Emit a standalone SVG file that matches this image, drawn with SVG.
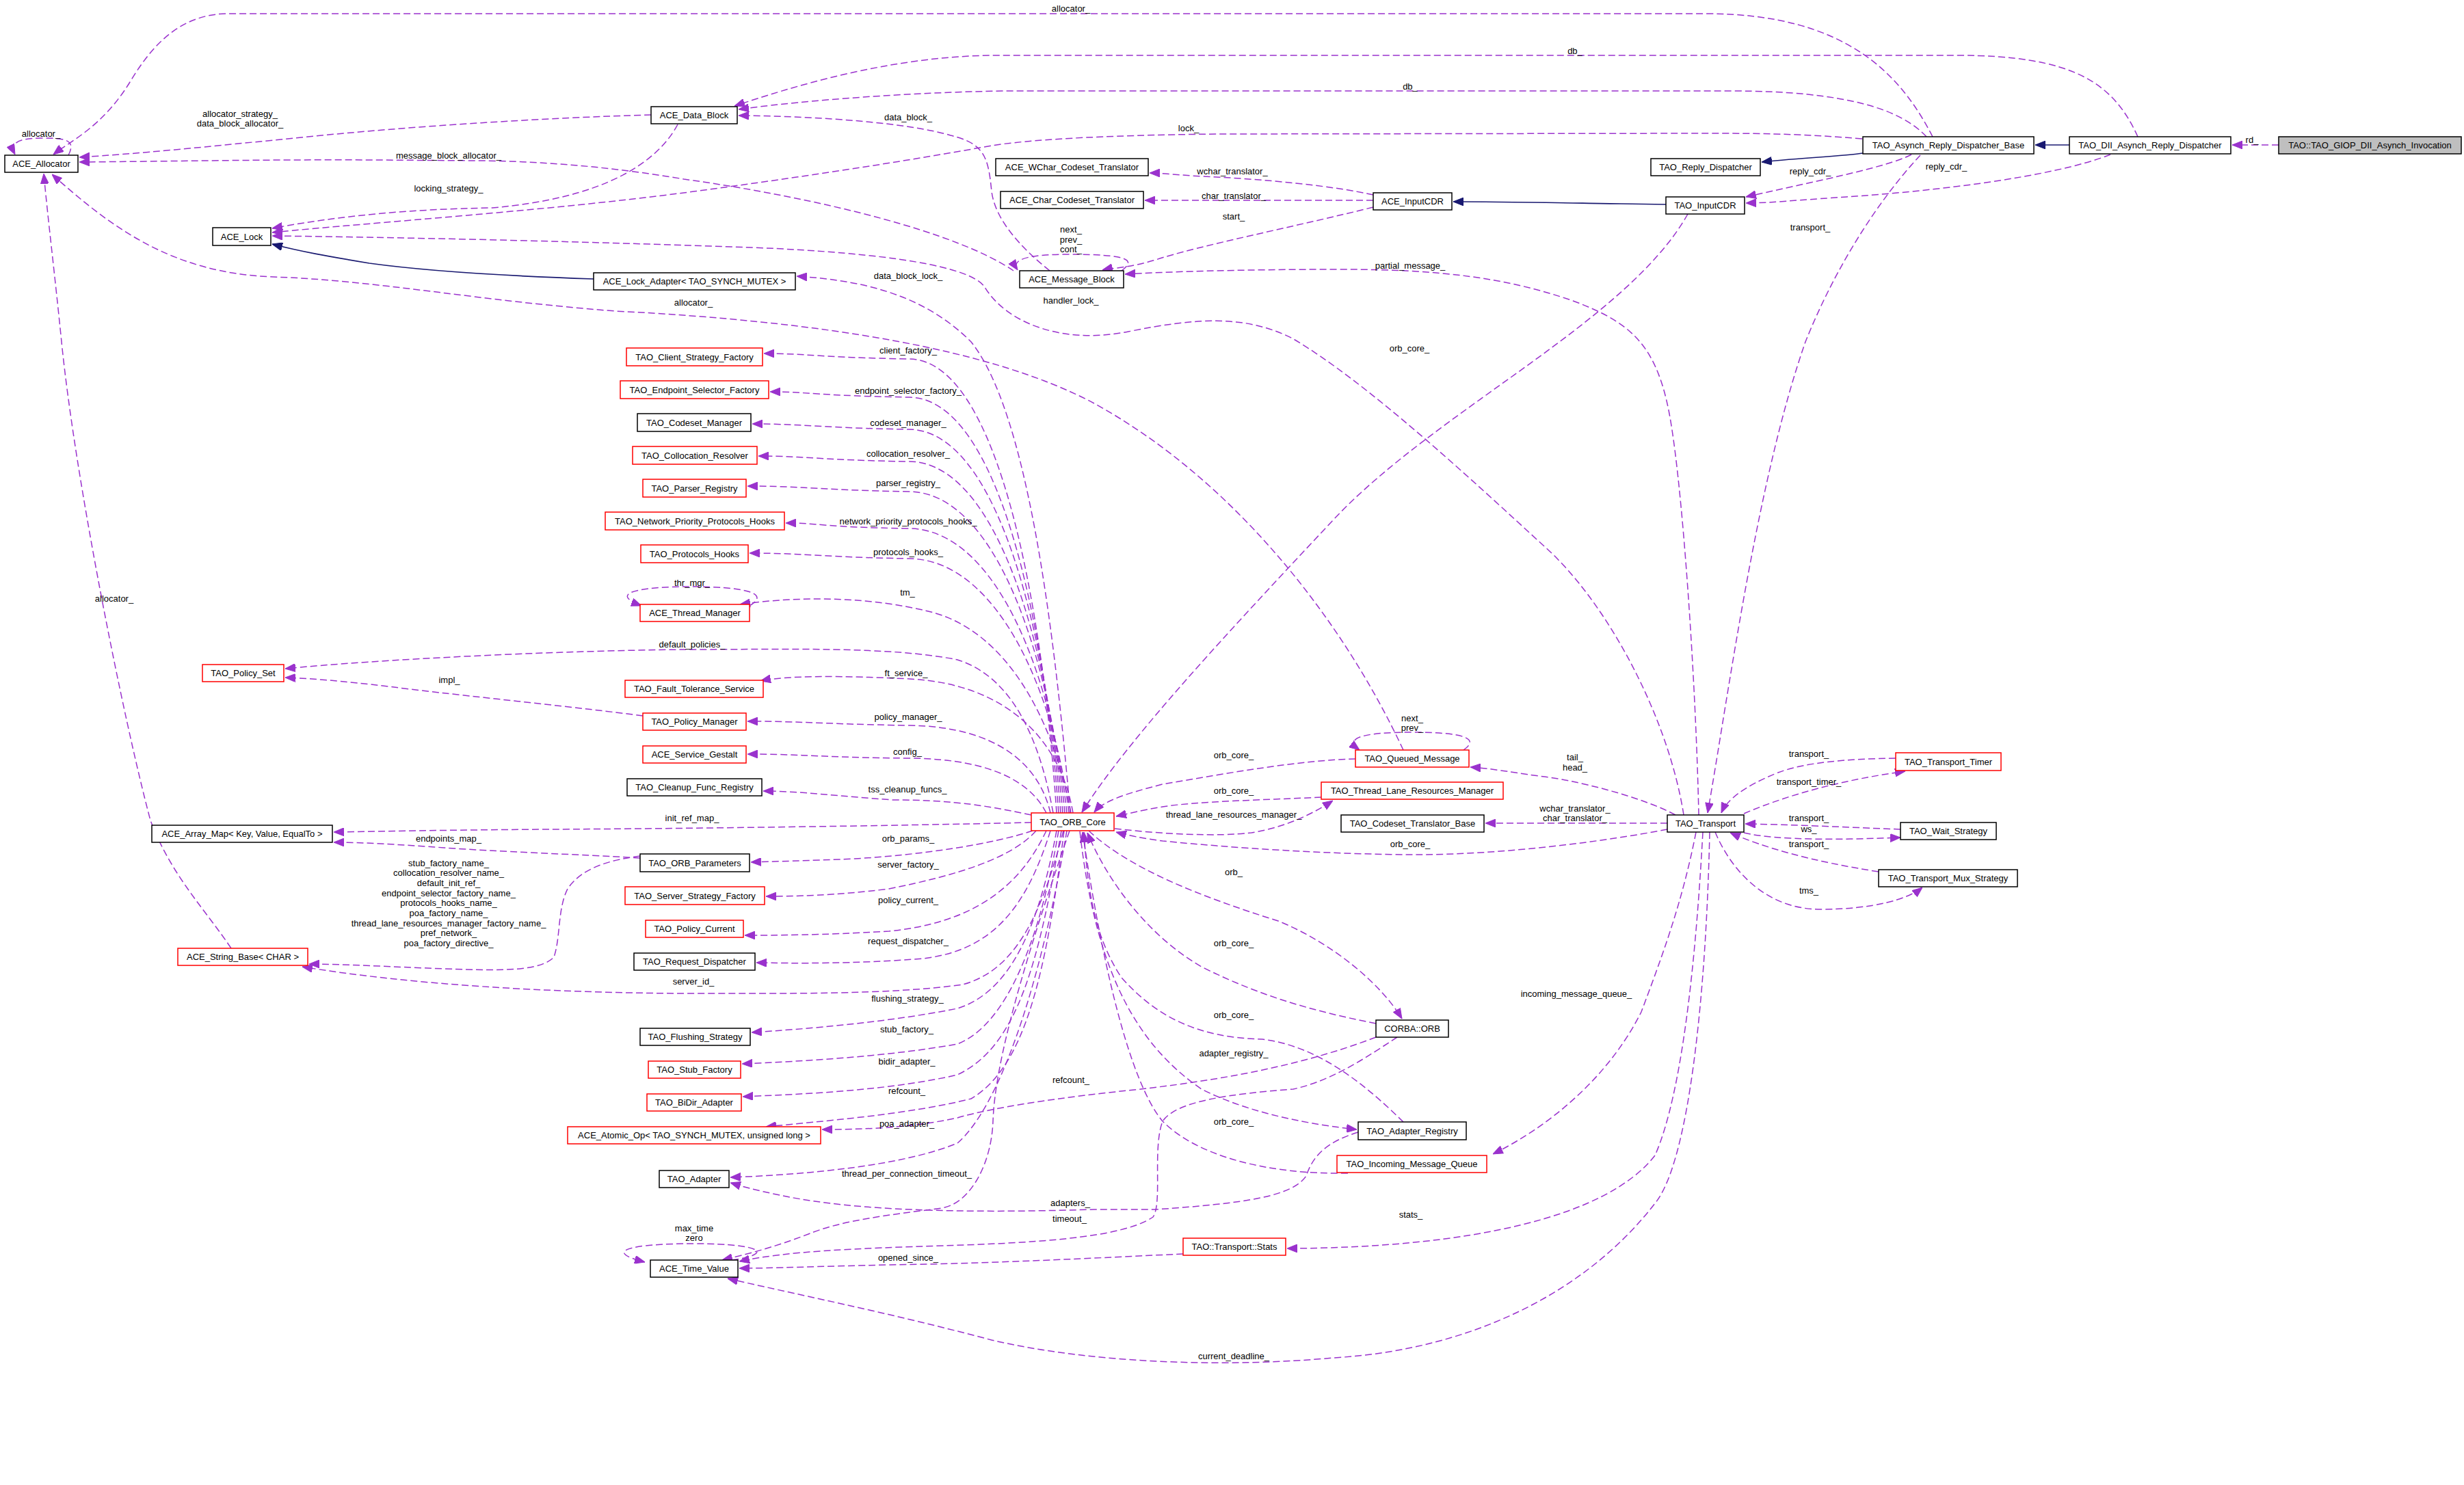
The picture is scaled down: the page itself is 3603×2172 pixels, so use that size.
<svg xmlns="http://www.w3.org/2000/svg" width="3603" height="2172" viewBox="0 0 3603 2172">
<style>
.bg{fill:#fff}
.nd rect{fill:#fff;stroke:#000;stroke-width:1.5}
.nd.red rect{stroke:#f00}
.nd.cur rect{fill:#bfbfbf}
.nd text{font-family:"Liberation Sans",Arial,sans-serif;font-size:13px;text-anchor:middle;fill:#000}
.e{fill:none;stroke:#9a32cd;stroke-width:1.5;stroke-dasharray:10,5;marker-end:url(#pa)}
.i{fill:none;stroke:#191970;stroke-width:1.6;marker-end:url(#na)}
.l{font-family:"Liberation Sans",Arial,sans-serif;font-size:13px;text-anchor:middle;fill:#000}
</style>
<defs>
<marker id="pa" viewBox="0 0 15 12" refX="15" refY="6" markerWidth="15" markerHeight="12" markerUnits="userSpaceOnUse" orient="auto"><path d="M0,0 L15,6 L0,12 z" fill="#9a32cd" stroke="#9a32cd"/></marker>
<marker id="na" viewBox="0 0 15 12" refX="15" refY="6" markerWidth="15" markerHeight="12" markerUnits="userSpaceOnUse" orient="auto"><path d="M0,0 L15,6 L0,12 z" fill="#191970" stroke="#191970"/></marker>
</defs>
<rect class="bg" x="0" y="0" width="3603" height="2172"/>
<g id="edges">
<path class="e" d="M3332,212 L3264,212"/>
<path class="i" d="M3026,212 L2976,212"/>
<path class="i" d="M2724,224 C2700,228 2620,232 2576,237"/>
<path class="i" d="M2436,299 L2370,298 C2300,297 2200,295 2125,295"/>
<path class="e" d="M2795,226 C2760,245 2640,268 2553,288"/>
<path class="e" d="M3086,226 C3000,260 2820,280 2700,288 S2600,296 2553,297"/>
<path class="e" d="M2826,200 C2780,110 2700,20 2495,20 L330,20 C260,22 220,70 190,120 C150,185 105,205 78,226"/>
<path class="e" d="M100,227 C112,204 95,202 60,202 C25,202 14,210 22,226"/>
<path class="e" d="M3126,200 C3090,120 3030,81 2862,81 L1458,81 C1300,81 1150,130 1074,155"/>
<path class="e" d="M2817,200 C2780,160 2700,133 2531,133 L1465,133 C1300,136 1150,150 1080,160"/>
<path class="e" d="M1535,396 C1490,360 1455,320 1450,280 C1445,230 1440,210 1390,198 C1330,180 1200,170 1080,169"/>
<path class="e" d="M2723,203 C2650,197 2600,195 2500,195 L1780,196 C1600,198 1500,205 1450,213 C1300,240 1150,262 1000,282 C800,308 550,325 398,340"/>
<path class="e" d="M991,182 C960,240 880,290 720,304 C600,306 500,315 398,334"/>
<path class="e" d="M952,168 C800,172 600,185 450,200 C300,215 200,225 116,230"/>
<path class="e" d="M1482,396 C1400,340 1200,290 1000,262 C900,245 800,236 700,235 L550,234 C400,233 250,236 116,237"/>
<path class="e" d="M2052,1097 C1960,900 1800,700 1600,590 C1450,510 1200,470 900,455 C700,440 550,410 400,405 C250,400 160,330 76,255"/>
<path class="e" d="M338,1387 C300,1330 250,1280 220,1200 C180,1050 110,700 90,500 C80,400 70,320 64,254"/>
<path class="i" d="M868,408 C750,404 620,396 540,385 C480,375 440,368 398,357"/>
<path class="e" d="M1565,1189 C1540,900 1500,600 1420,500 C1350,430 1260,410 1165,404"/>
<path class="e" d="M2462,1192 C2440,1050 2350,880 2257,798 C2150,700 2000,560 1890,495 C1820,460 1750,465 1650,485 C1550,505 1470,470 1440,420 C1420,390 1300,370 1100,362 C900,355 650,348 398,345"/>
<path class="e" d="M2008,303 C1900,330 1750,360 1690,380 C1650,392 1625,392 1612,395"/>
<path class="e" d="M2008,285 C1950,272 1850,262 1760,258 C1720,256 1700,253 1681,253"/>
<path class="e" d="M2008,293 L1674,293"/>
<path class="e" d="M1640,396 C1662,380 1650,372 1563,372 C1500,372 1478,380 1488,395"/>
<path class="e" d="M2484,1192 C2480,1000 2460,700 2440,600 C2420,500 2380,470 2300,440 C2200,405 2100,394 1963,394 C1800,394 1700,398 1645,401"/>
<path class="e" d="M2808,227 C2740,300 2680,400 2640,500 C2570,700 2530,1000 2497,1189"/>
<path class="e" d="M2468,313 C2380,470 2100,600 1950,760 C1800,920 1650,1080 1582,1188"/>
<path class="e" d="M1545,1189 C1525,887 1460,527 1330,525 S1180,517 1117,517"/>
<path class="e" d="M1548,1189 C1528,912 1460,583 1330,581 S1180,573 1126,573"/>
<path class="e" d="M1551,1189 C1531,933 1460,630 1330,628 S1180,620 1100,620"/>
<path class="e" d="M1554,1189 C1534,954 1460,677 1330,675 S1180,667 1109,667"/>
<path class="e" d="M1557,1189 C1537,974 1460,721 1330,719 S1180,711 1093,711"/>
<path class="e" d="M1560,1189 C1540,998 1460,775 1330,773 S1200,765 1149,765"/>
<path class="e" d="M1563,1189 C1543,1018 1460,819 1330,817 S1180,809 1096,809"/>
<path class="e" d="M1566,1189 C1540,1050 1470,920 1357,894 C1280,875 1180,870 1082,884"/>
<path class="e" d="M1540,1189 C1520,1080 1480,990 1400,965 C1300,945 1150,950 1000,950 C800,952 550,965 417,978"/>
<path class="e" d="M1569,1189 C1550,1080 1470,1000 1330,993 C1230,988 1150,988 1112,996"/>
<path class="e" d="M1096,886 C1130,866 1080,858 1012,858 C930,858 890,868 938,886"/>
<path class="e" d="M940,1047 C850,1035 700,1020 600,1008 C520,998 470,993 417,991"/>
<path class="e" d="M1536,1189 C1520,1120 1460,1063 1330,1061 S1180,1055 1093,1055"/>
<path class="e" d="M1530,1189 C1510,1150 1460,1110 1330,1109 S1180,1103 1093,1103"/>
<path class="e" d="M1508,1192 C1450,1180 1400,1170 1306,1170 C1230,1165 1170,1157 1116,1157"/>
<path class="e" d="M1508,1203 C1300,1208 1000,1212 800,1213 C650,1214 550,1216 488,1217"/>
<path class="e" d="M936,1255 C850,1250 720,1245 650,1240 C580,1235 530,1232 488,1232"/>
<path class="e" d="M936,1252 C890,1258 850,1270 830,1300 C815,1330 820,1370 810,1400 C790,1420 740,1420 650,1417 C570,1414 500,1410 452,1410"/>
<path class="e" d="M1510,1215 C1450,1235 1350,1250 1250,1256 C1180,1259 1130,1260 1098,1261"/>
<path class="e" d="M1515,1215 C1480,1255 1400,1280 1300,1300 C1220,1310 1160,1311 1120,1311"/>
<path class="e" d="M1530,1215 C1490,1300 1420,1350 1300,1362 C1200,1368 1130,1368 1089,1368"/>
<path class="e" d="M1536,1215 C1500,1330 1450,1390 1350,1402 C1250,1410 1160,1409 1106,1408"/>
<path class="e" d="M1555,1215 C1520,1350 1480,1420 1408,1440 C1300,1455 1150,1453 1000,1453 C800,1452 600,1440 442,1414"/>
<path class="e" d="M1545,1215 C1520,1350 1480,1450 1400,1475 C1300,1495 1180,1505 1099,1510"/>
<path class="e" d="M1548,1215 C1520,1380 1470,1500 1400,1527 C1300,1545 1180,1552 1085,1556"/>
<path class="e" d="M1552,1215 C1520,1400 1490,1530 1400,1572 C1300,1595 1180,1600 1086,1604"/>
<path class="e" d="M1556,1215 C1530,1420 1500,1560 1420,1607 C1330,1630 1200,1640 1120,1648"/>
<path class="e" d="M1560,1215 C1520,1450 1460,1620 1400,1672 C1320,1705 1180,1718 1068,1722"/>
<path class="e" d="M1564,1215 C1500,1400 1455,1550 1452,1640 C1450,1700 1420,1760 1377,1767 C1300,1777 1230,1785 1182,1805 C1130,1825 1090,1835 1056,1843"/>
<path class="e" d="M1070,1843 C1130,1835 1120,1819 1015,1819 C920,1819 880,1830 943,1846"/>
<path class="e" d="M1982,1110 C1900,1112 1800,1130 1700,1147 C1650,1160 1615,1170 1600,1188"/>
<path class="e" d="M1932,1166 C1850,1170 1750,1172 1700,1180 C1670,1185 1650,1190 1632,1194"/>
<path class="e" d="M1630,1212 C1700,1220 1780,1224 1830,1218 C1880,1210 1920,1190 1949,1171"/>
<path class="e" d="M2438,1213 C2350,1230 2200,1250 2073,1250 C1950,1250 1800,1240 1700,1230 C1670,1226 1650,1222 1632,1217"/>
<path class="e" d="M1592,1215 C1650,1270 1757,1312 1869,1347 C1950,1380 2020,1440 2050,1490"/>
<path class="e" d="M2012,1497 C1930,1481 1846,1459 1757,1414 C1680,1370 1620,1290 1590,1218"/>
<path class="e" d="M1579,1216 C1600,1400 1650,1520 1757,1593 C1830,1630 1920,1645 1984,1652"/>
<path class="e" d="M2052,1641 C2000,1590 1930,1530 1846,1520 C1750,1518 1690,1486 1640,1430 C1600,1370 1590,1300 1585,1217"/>
<path class="e" d="M1971,1716 C1850,1718 1750,1690 1700,1640 C1650,1580 1610,1400 1583,1217"/>
<path class="e" d="M2012,1517 C1900,1560 1780,1580 1668,1593 C1550,1605 1450,1620 1400,1635 C1330,1650 1260,1652 1202,1652"/>
<path class="e" d="M2043,1517 C2000,1545 1950,1580 1891,1593 C1800,1600 1720,1610 1700,1640 C1685,1680 1700,1760 1686,1780 C1640,1812 1500,1818 1380,1822 C1250,1826 1150,1830 1081,1845"/>
<path class="e" d="M1986,1656 C1940,1670 1920,1690 1910,1720 C1890,1750 1820,1760 1690,1769 L1600,1769 C1400,1775 1250,1770 1150,1750 C1100,1740 1085,1735 1068,1730"/>
<path class="e" d="M1730,1834 C1600,1840 1450,1848 1300,1850 C1200,1852 1130,1855 1081,1855"/>
<path class="e" d="M2490,1217 C2480,1400 2460,1600 2420,1690 C2350,1780 2150,1825 1882,1826"/>
<path class="e" d="M2500,1217 C2495,1450 2470,1700 2420,1760 C2320,1890 2150,1975 1949,1986 C1800,2000 1600,1995 1450,1960 C1300,1920 1150,1890 1064,1870"/>
<path class="e" d="M2480,1217 C2460,1320 2430,1400 2400,1480 C2350,1580 2260,1650 2183,1688"/>
<path class="e" d="M2450,1192 C2400,1165 2300,1140 2250,1135 C2200,1128 2180,1124 2150,1122"/>
<path class="e" d="M2438,1204 L2172,1204"/>
<path class="e" d="M2772,1109 C2700,1110 2640,1115 2600,1130 C2550,1150 2525,1170 2517,1189"/>
<path class="e" d="M2550,1190 C2620,1160 2700,1140 2786,1128"/>
<path class="e" d="M2779,1213 C2700,1210 2620,1206 2552,1205"/>
<path class="e" d="M2550,1218 C2600,1230 2700,1228 2779,1225"/>
<path class="e" d="M2747,1275 C2650,1260 2580,1240 2530,1218"/>
<path class="e" d="M2508,1217 C2530,1270 2580,1330 2662,1330 C2740,1330 2790,1315 2811,1298"/>
<path class="e" d="M2140,1097 C2165,1080 2140,1071 2065,1071 C1990,1071 1965,1080 1988,1097"/>
</g>
<g id="edge-labels">
<text class="l" x="3293" y="209">rd_</text>
<text class="l" x="2647" y="255">reply_cdr_</text>
<text class="l" x="2846" y="248">reply_cdr_</text>
<text class="l" x="1566" y="17">allocator_</text>
<text class="l" x="60" y="200">allocator_</text>
<text class="l" x="2303" y="79">db_</text>
<text class="l" x="2062" y="131">db_</text>
<text class="l" x="1328" y="176">data_block_</text>
<text class="l" x="1738" y="192">lock_</text>
<text class="l" x="656" y="280">locking_strategy_</text>
<text class="l" x="351" y="171">allocator_strategy_</text>
<text class="l" x="351" y="185">data_block_allocator_</text>
<text class="l" x="656" y="232">message_block_allocator_</text>
<text class="l" x="1014" y="447">allocator_</text>
<text class="l" x="167" y="880">allocator_</text>
<text class="l" x="1328" y="408">data_block_lock_</text>
<text class="l" x="1566" y="444">handler_lock_</text>
<text class="l" x="1804" y="321">start_</text>
<text class="l" x="1802" y="255">wchar_translator_</text>
<text class="l" x="1804" y="291">char_translator_</text>
<text class="l" x="1566" y="340">next_</text>
<text class="l" x="1566" y="355">prev_</text>
<text class="l" x="1566" y="369">cont_</text>
<text class="l" x="2062" y="393">partial_message_</text>
<text class="l" x="2647" y="337">transport_</text>
<text class="l" x="2061" y="514">orb_core_</text>
<text class="l" x="1328" y="517">client_factory_</text>
<text class="l" x="1328" y="576">endpoint_selector_factory_</text>
<text class="l" x="1328" y="623">codeset_manager_</text>
<text class="l" x="1328" y="668">collocation_resolver_</text>
<text class="l" x="1328" y="711">parser_registry_</text>
<text class="l" x="1328" y="767">network_priority_protocols_hooks_</text>
<text class="l" x="1328" y="812">protocols_hooks_</text>
<text class="l" x="1012" y="857">thr_mgr_</text>
<text class="l" x="1327" y="871">tm_</text>
<text class="l" x="1012" y="947">default_policies_</text>
<text class="l" x="1325" y="989">ft_service_</text>
<text class="l" x="657" y="999">impl_</text>
<text class="l" x="1328" y="1053">policy_manager_</text>
<text class="l" x="1327" y="1104">config_</text>
<text class="l" x="1327" y="1159">tss_cleanup_funcs_</text>
<text class="l" x="1012" y="1201">init_ref_map_</text>
<text class="l" x="656" y="1231">endpoints_map_</text>
<text class="l" x="656" y="1267">stub_factory_name_</text>
<text class="l" x="656" y="1281">collocation_resolver_name_</text>
<text class="l" x="656" y="1296">default_init_ref_</text>
<text class="l" x="656" y="1311">endpoint_selector_factory_name_</text>
<text class="l" x="656" y="1325">protocols_hooks_name_</text>
<text class="l" x="656" y="1340">poa_factory_name_</text>
<text class="l" x="656" y="1355">thread_lane_resources_manager_factory_name_</text>
<text class="l" x="656" y="1369">pref_network_</text>
<text class="l" x="656" y="1384">poa_factory_directive_</text>
<text class="l" x="1328" y="1231">orb_params_</text>
<text class="l" x="1328" y="1269">server_factory_</text>
<text class="l" x="1328" y="1321">policy_current_</text>
<text class="l" x="1328" y="1381">request_dispatcher_</text>
<text class="l" x="1014" y="1440">server_id_</text>
<text class="l" x="1327" y="1465">flushing_strategy_</text>
<text class="l" x="1326" y="1510">stub_factory_</text>
<text class="l" x="1326" y="1557">bidir_adapter_</text>
<text class="l" x="1326" y="1600">refcount_</text>
<text class="l" x="1326" y="1648">poa_adapter_</text>
<text class="l" x="1326" y="1721">thread_per_connection_timeout_</text>
<text class="l" x="1015" y="1801">max_time</text>
<text class="l" x="1015" y="1815">zero</text>
<text class="l" x="1804" y="1109">orb_core_</text>
<text class="l" x="1804" y="1161">orb_core_</text>
<text class="l" x="1804" y="1196">thread_lane_resources_manager_</text>
<text class="l" x="2062" y="1239">orb_core_</text>
<text class="l" x="1804" y="1280">orb_</text>
<text class="l" x="1804" y="1384">orb_core_</text>
<text class="l" x="1804" y="1545">adapter_registry_</text>
<text class="l" x="1804" y="1489">orb_core_</text>
<text class="l" x="1804" y="1645">orb_core_</text>
<text class="l" x="1566" y="1584">refcount_</text>
<text class="l" x="1564" y="1787">timeout_</text>
<text class="l" x="1565" y="1764">adapters_</text>
<text class="l" x="1328" y="1844">opened_since_</text>
<text class="l" x="2063" y="1781">stats_</text>
<text class="l" x="1804" y="1988">current_deadline_</text>
<text class="l" x="2305" y="1458">incoming_message_queue_</text>
<text class="l" x="2303" y="1112">tail_</text>
<text class="l" x="2303" y="1127">head_</text>
<text class="l" x="2303" y="1187">wchar_translator_</text>
<text class="l" x="2303" y="1201">char_translator_</text>
<text class="l" x="2645" y="1107">transport_</text>
<text class="l" x="2645" y="1148">transport_timer_</text>
<text class="l" x="2645" y="1201">transport_</text>
<text class="l" x="2645" y="1217">ws_</text>
<text class="l" x="2645" y="1239">transport_</text>
<text class="l" x="2645" y="1307">tms_</text>
<text class="l" x="2065" y="1055">next_</text>
<text class="l" x="2065" y="1069">prev_</text>
</g>
<g id="node-giop" class="nd cur"><rect x="3332" y="200" width="267" height="25"/><text x="3465.5" y="217">TAO::TAO_GIOP_DII_Asynch_Invocation</text></g>
<g id="node-dii" class="nd"><rect x="3026" y="200" width="236" height="25"/><text x="3144" y="217">TAO_DII_Asynch_Reply_Dispatcher</text></g>
<g id="node-arb" class="nd"><rect x="2724" y="200" width="250" height="25"/><text x="2849" y="217">TAO_Asynch_Reply_Dispatcher_Base</text></g>
<g id="node-rd" class="nd"><rect x="2414" y="232" width="160" height="25"/><text x="2494" y="249">TAO_Reply_Dispatcher</text></g>
<g id="node-tinput" class="nd"><rect x="2436" y="288" width="115" height="25"/><text x="2493.5" y="305">TAO_InputCDR</text></g>
<g id="node-ainput" class="nd"><rect x="2008" y="282" width="115" height="25"/><text x="2065.5" y="299">ACE_InputCDR</text></g>
<g id="node-wchar" class="nd"><rect x="1456" y="232" width="223" height="25"/><text x="1567.5" y="249">ACE_WChar_Codeset_Translator</text></g>
<g id="node-char" class="nd"><rect x="1463" y="280" width="209" height="25"/><text x="1567.5" y="297">ACE_Char_Codeset_Translator</text></g>
<g id="node-mb" class="nd"><rect x="1491" y="396" width="152" height="25"/><text x="1567" y="413">ACE_Message_Block</text></g>
<g id="node-db" class="nd"><rect x="952" y="156" width="126" height="25"/><text x="1015" y="173">ACE_Data_Block</text></g>
<g id="node-alloc" class="nd"><rect x="7" y="227" width="107" height="25"/><text x="60.5" y="244">ACE_Allocator</text></g>
<g id="node-lock" class="nd"><rect x="311" y="333" width="85" height="26"/><text x="353.5" y="350.5">ACE_Lock</text></g>
<g id="node-lockad" class="nd"><rect x="868" y="399" width="295" height="25"/><text x="1015.5" y="416">ACE_Lock_Adapter&lt; TAO_SYNCH_MUTEX &gt;</text></g>
<g id="node-csf" class="nd red"><rect x="916" y="509" width="199" height="26"/><text x="1015.5" y="526.5">TAO_Client_Strategy_Factory</text></g>
<g id="node-esf" class="nd red"><rect x="907" y="557" width="217" height="26"/><text x="1015.5" y="574.5">TAO_Endpoint_Selector_Factory</text></g>
<g id="node-cm" class="nd"><rect x="932" y="605" width="166" height="26"/><text x="1015" y="622.5">TAO_Codeset_Manager</text></g>
<g id="node-cr" class="nd red"><rect x="925" y="653" width="182" height="26"/><text x="1016" y="670.5">TAO_Collocation_Resolver</text></g>
<g id="node-pr" class="nd red"><rect x="940" y="701" width="151" height="26"/><text x="1015.5" y="718.5">TAO_Parser_Registry</text></g>
<g id="node-nph" class="nd red"><rect x="885" y="749" width="262" height="26"/><text x="1016" y="766.5">TAO_Network_Priority_Protocols_Hooks</text></g>
<g id="node-ph" class="nd red"><rect x="937" y="797" width="157" height="26"/><text x="1015.5" y="814.5">TAO_Protocols_Hooks</text></g>
<g id="node-tm" class="nd red"><rect x="936" y="884" width="160" height="25"/><text x="1016" y="901">ACE_Thread_Manager</text></g>
<g id="node-ps" class="nd red"><rect x="296" y="972" width="119" height="25"/><text x="355.5" y="989">TAO_Policy_Set</text></g>
<g id="node-fts" class="nd red"><rect x="914" y="995" width="202" height="25"/><text x="1015" y="1012">TAO_Fault_Tolerance_Service</text></g>
<g id="node-pm" class="nd red"><rect x="940" y="1043" width="151" height="25"/><text x="1015.5" y="1060">TAO_Policy_Manager</text></g>
<g id="node-sg" class="nd red"><rect x="940" y="1091" width="151" height="25"/><text x="1015.5" y="1108">ACE_Service_Gestalt</text></g>
<g id="node-cfr" class="nd"><rect x="917" y="1139" width="197" height="25"/><text x="1015.5" y="1156">TAO_Cleanup_Func_Registry</text></g>
<g id="node-am" class="nd"><rect x="222" y="1207" width="264" height="25"/><text x="354" y="1224">ACE_Array_Map&lt; Key, Value, EqualTo &gt;</text></g>
<g id="node-op" class="nd"><rect x="936" y="1249" width="160" height="26"/><text x="1016" y="1266.5">TAO_ORB_Parameters</text></g>
<g id="node-ssf" class="nd red"><rect x="914" y="1297" width="204" height="26"/><text x="1016" y="1314.5">TAO_Server_Strategy_Factory</text></g>
<g id="node-pc" class="nd red"><rect x="944" y="1346" width="143" height="25"/><text x="1015.5" y="1363">TAO_Policy_Current</text></g>
<g id="node-rqd" class="nd"><rect x="927" y="1394" width="177" height="25"/><text x="1015.5" y="1411">TAO_Request_Dispatcher</text></g>
<g id="node-sb" class="nd red"><rect x="260" y="1387" width="190" height="25"/><text x="355" y="1404">ACE_String_Base&lt; CHAR &gt;</text></g>
<g id="node-core" class="nd red"><rect x="1508" y="1189" width="121" height="26"/><text x="1568.5" y="1206.5">TAO_ORB_Core</text></g>
<g id="node-qm" class="nd red"><rect x="1982" y="1097" width="166" height="25"/><text x="2065" y="1114">TAO_Queued_Message</text></g>
<g id="node-tlrm" class="nd red"><rect x="1932" y="1144" width="266" height="25"/><text x="2065" y="1161">TAO_Thread_Lane_Resources_Manager</text></g>
<g id="node-ctb" class="nd"><rect x="1961" y="1192" width="209" height="25"/><text x="2065.5" y="1209">TAO_Codeset_Translator_Base</text></g>
<g id="node-tr" class="nd"><rect x="2438" y="1192" width="112" height="25"/><text x="2494" y="1209">TAO_Transport</text></g>
<g id="node-tt" class="nd red"><rect x="2772" y="1101" width="154" height="26"/><text x="2849" y="1118.5">TAO_Transport_Timer</text></g>
<g id="node-ws" class="nd"><rect x="2779" y="1203" width="140" height="25"/><text x="2849" y="1220">TAO_Wait_Strategy</text></g>
<g id="node-tms" class="nd"><rect x="2747" y="1272" width="203" height="25"/><text x="2848.5" y="1289">TAO_Transport_Mux_Strategy</text></g>
<g id="node-orb" class="nd"><rect x="2012" y="1492" width="106" height="25"/><text x="2065" y="1509">CORBA::ORB</text></g>
<g id="node-ar" class="nd"><rect x="1986" y="1641" width="158" height="26"/><text x="2065" y="1658.5">TAO_Adapter_Registry</text></g>
<g id="node-imq" class="nd red"><rect x="1955" y="1690" width="219" height="25"/><text x="2064.5" y="1707">TAO_Incoming_Message_Queue</text></g>
<g id="node-st" class="nd red"><rect x="1730" y="1811" width="150" height="25"/><text x="1805" y="1828">TAO::Transport::Stats</text></g>
<g id="node-fs" class="nd"><rect x="936" y="1504" width="161" height="25"/><text x="1016.5" y="1521">TAO_Flushing_Strategy</text></g>
<g id="node-sf" class="nd red"><rect x="948" y="1552" width="135" height="25"/><text x="1015.5" y="1569">TAO_Stub_Factory</text></g>
<g id="node-bd" class="nd red"><rect x="946" y="1600" width="138" height="25"/><text x="1015" y="1617">TAO_BiDir_Adapter</text></g>
<g id="node-ao" class="nd red"><rect x="830" y="1648" width="370" height="25"/><text x="1015" y="1665">ACE_Atomic_Op&lt; TAO_SYNCH_MUTEX, unsigned long &gt;</text></g>
<g id="node-ad" class="nd"><rect x="964" y="1712" width="102" height="25"/><text x="1015" y="1729">TAO_Adapter</text></g>
<g id="node-tv" class="nd"><rect x="951" y="1843" width="128" height="25"/><text x="1015" y="1860">ACE_Time_Value</text></g>
</svg>
